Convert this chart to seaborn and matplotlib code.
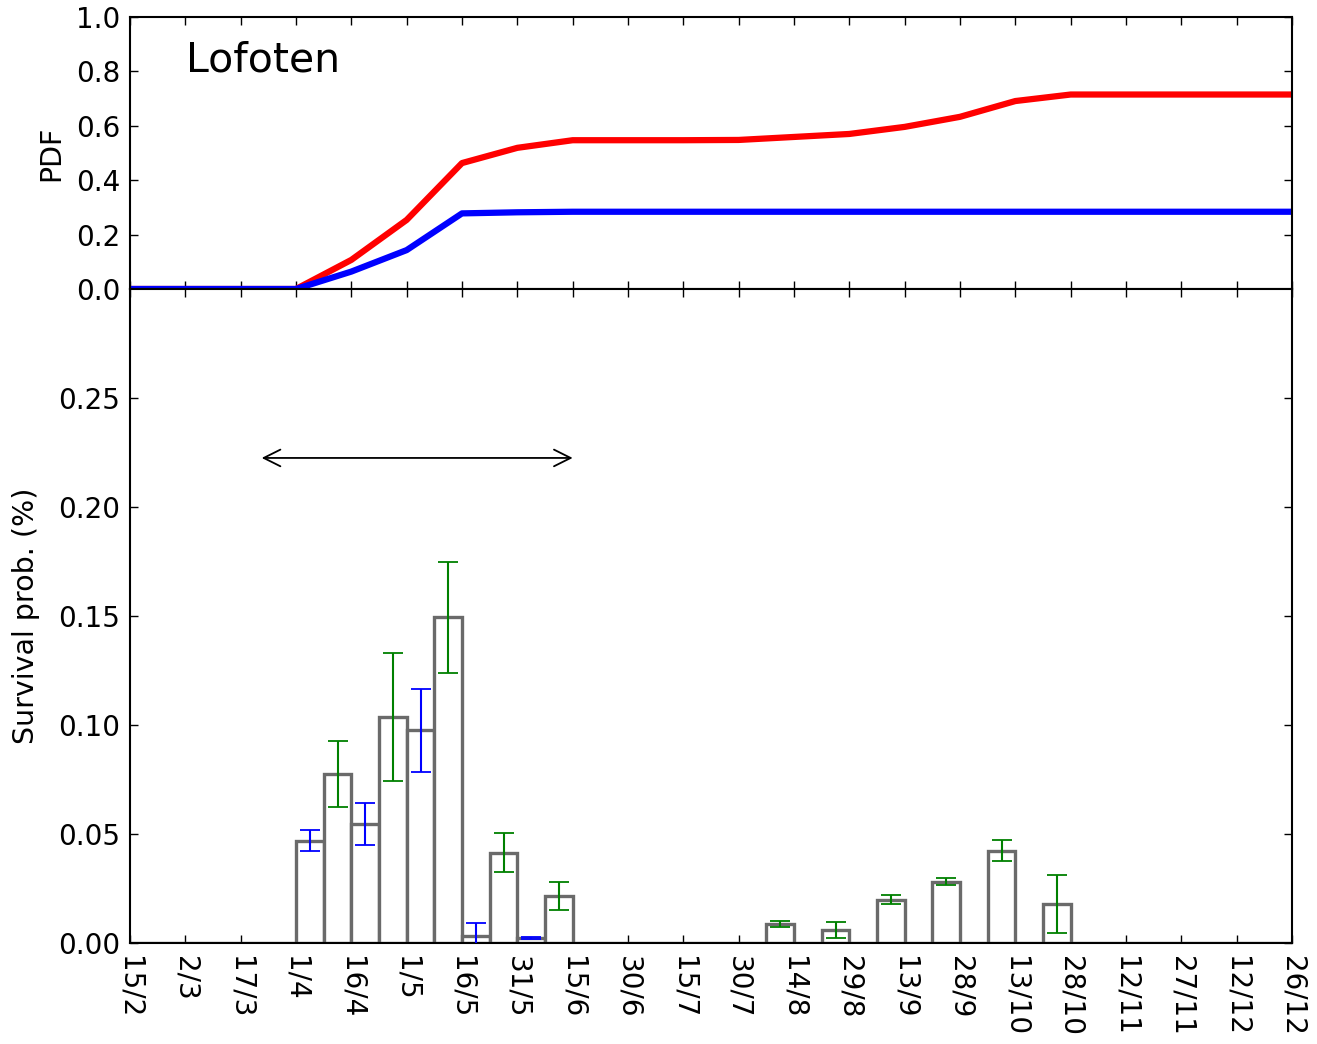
import numpy as np
import pandas as pd
import matplotlib
matplotlib.use("Agg")
import matplotlib.pyplot as plt
import seaborn as sns

# ---------------- data ----------------
tick_labels = ["15/2", "2/3", "17/3", "1/4", "16/4", "1/5", "16/5", "31/5", "15/6", "30/6",
               "15/7", "30/7", "14/8", "29/8", "13/9", "28/9", "13/10", "28/10", "12/11",
               "27/11", "12/12", "26/12"]
tick_days = [0, 15, 30, 45, 60, 75, 90, 105, 120, 135, 150, 165, 180, 195, 210, 225,
             240, 255, 270, 285, 300, 315]

pdf_red = [0, 0, 0, 0, 0.107, 0.254, 0.463, 0.519, 0.547, 0.547, 0.547, 0.548, 0.559,
           0.570, 0.596, 0.633, 0.691, 0.715, 0.715, 0.715, 0.715, 0.715]
pdf_blue = [0, 0, 0, 0, 0.064, 0.143, 0.278, 0.282, 0.284, 0.284, 0.284, 0.284, 0.284,
            0.284, 0.284, 0.284, 0.284, 0.284, 0.284, 0.284, 0.284, 0.284]

# bins of 7.5 days, starting 15/2
bin_width = 7.5
bin_edges = [i * bin_width for i in range(43)]
# nonzero survival probabilities, keyed by bin index
green_bins = [7, 9, 11, 13, 15, 23, 25, 27, 29, 31, 33]
green_vals = [0.0775, 0.1035, 0.1495, 0.0415, 0.0215, 0.0087, 0.0060, 0.0198, 0.0280, 0.0423, 0.0178]
green_errs = [0.015, 0.0293, 0.0255, 0.009, 0.0065, 0.0012, 0.0035, 0.0020, 0.0016, 0.0048, 0.0133]
blue_bins = [6, 8, 10, 12, 14]
blue_vals = [0.0470, 0.0545, 0.0975, 0.0032, 0.0024]
blue_errs = [0.0050, 0.0097, 0.0190, 0.0062, 0.0005]

arrow_start, arrow_end, arrow_y = 35.7, 120.0, 0.2225

# ---------------- figure ----------------
sns.set_style("ticks", {
    "xtick.direction": "in", "ytick.direction": "in",
    "xtick.top": True, "ytick.right": True,
    "axes.edgecolor": "black",
    "text.color": "black", "axes.labelcolor": "black",
    "xtick.color": "black", "ytick.color": "black",
})
plt.rcParams["font.family"] = ["DejaVu Sans"]
plt.rcParams["axes.linewidth"] = 1.5

fig = plt.figure(figsize=(13.17, 10.44), dpi=100)
L, R = 130 / 1317, 1292 / 1317
ax_top = fig.add_axes([L, 1 - 289 / 1044, R - L, (289 - 17) / 1044])
ax_bot = fig.add_axes([L, 1 - 943 / 1044, R - L, (943 - 289) / 1044], sharex=ax_top)

FS = 20

# top panel
df_pdf = pd.DataFrame({"day": tick_days * 2,
                       "pdf": pdf_red + pdf_blue,
                       "series": ["red"] * len(tick_days) + ["blue"] * len(tick_days)})
sns.lineplot(data=df_pdf, x="day", y="pdf", hue="series",
             palette={"red": "#ff0000", "blue": "#0000ff"}, linewidth=4.5,
             legend=False, ax=ax_top, estimator=None, sort=False)
ax_top.set_ylim(0, 1.0)
ax_top.set_yticks(np.arange(0, 1.01, 0.2))
ax_top.set_yticklabels([f"{v:.1f}" for v in np.arange(0, 1.01, 0.2)], fontsize=FS)
ax_top.set_ylabel("PDF", fontsize=20.5, color="black")
ax_top.yaxis.set_label_coords(-0.056, 0.5)
ax_top.set_xlabel("")
ax_top.tick_params(axis="x", labelbottom=False)
ax_top.text(0.048, 0.80, "Lofoten", transform=ax_top.transAxes, fontsize=29.5,
            va="baseline", color="black")

# bottom panel
vals = np.zeros(42)
for b, v in zip(green_bins, green_vals):
    vals[b] = v
for b, v in zip(blue_bins, blue_vals):
    vals[b] = v
centers = np.array(bin_edges[:-1]) + bin_width / 2
sns.histplot(x=centers, weights=vals, bins=bin_edges, ax=ax_bot,
             color="white", edgecolor="#6a6a6a", linewidth=2.4, alpha=1.0)

ax_bot.errorbar([centers[b] for b in green_bins], green_vals, yerr=green_errs, fmt="none",
                ecolor="green", elinewidth=1.5, capsize=7, capthick=1.3, zorder=5)
ax_bot.errorbar([centers[b] for b in blue_bins], blue_vals, yerr=blue_errs, fmt="none",
                ecolor="blue", elinewidth=1.5, capsize=7, capthick=1.3, zorder=5)

ax_bot.annotate("", xy=(arrow_start, arrow_y), xytext=(arrow_end, arrow_y),
                arrowprops=dict(arrowstyle="<->", color="black", lw=1.3,
                                mutation_scale=30, shrinkA=0, shrinkB=0))

ax_bot.set_ylim(0, 0.30)
yt = [0.0, 0.05, 0.10, 0.15, 0.20, 0.25]
ax_bot.set_yticks(yt)
ax_bot.set_yticklabels([f"{v:.2f}" for v in yt], fontsize=FS)
ax_bot.set_ylabel("Survival prob. (%)", fontsize=20.5, color="black")
ax_bot.yaxis.set_label_coords(-0.0775, 0.5)
ax_bot.set_xlim(0, 315)
ax_bot.set_xticks(tick_days)
ax_bot.set_xticklabels(tick_labels, rotation=270, fontsize=FS, ha="center", va="top")
ax_bot.set_xlabel("")

for ax in (ax_top, ax_bot):
    for s in ax.spines.values():
        s.set_visible(True)
        s.set_linewidth(1.5)
        s.set_color("black")
    ax.tick_params(direction="in", top=True, right=True, length=6, width=1.0,
                   colors="black")
    ax.tick_params(axis="y", pad=7)
    ax.tick_params(axis="x", pad=9)

fig.savefig("out.png", dpi=100)
